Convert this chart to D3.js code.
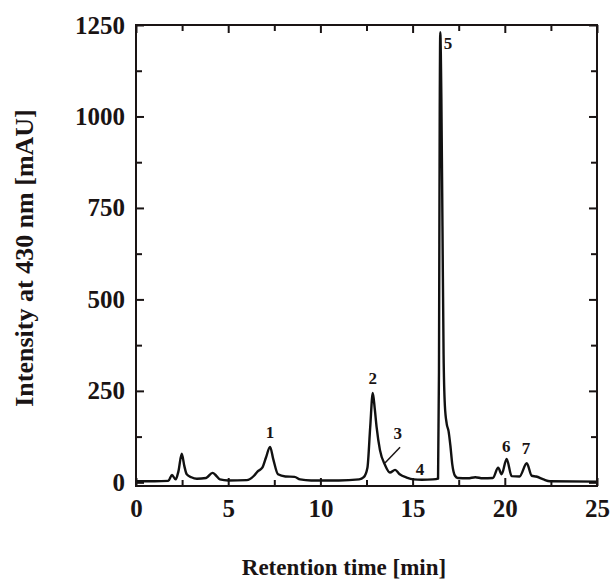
<!DOCTYPE html>
<html>
<head>
<meta charset="utf-8">
<script src="https://cdn.jsdelivr.net/npm/d3@7"></script>
<style>
    body { margin: 0; background: #fff; }
    text { font-family: "Liberation Serif", "Times New Roman", serif; font-weight: bold; fill: #1a1414; }
    .frame { fill: none; stroke: #1a1414; stroke-width: 2; }
    .axis path { display: none; }
    .axis line { stroke: #1a1414; stroke-width: 2; }
    .trace { fill: none; stroke: #111; stroke-width: 2.4; stroke-linejoin: round; }
</style>
</head>
<body>
<script>
//chromatogram
var time = [0, 1.0, 1.75, 1.95, 2.15, 2.3, 2.48, 2.62, 2.75, 3.0, 3.3, 3.8, 4.15, 4.35, 4.55, 5.0,
    6.0, 6.4, 6.6, 6.85, 7.05, 7.27, 7.45, 7.7, 8.1, 8.6, 8.9, 9.5, 11.0, 12.1, 12.35, 12.55,
    12.7, 12.84, 12.95, 13.05, 13.23, 13.5, 13.77, 14.05, 14.3, 14.68, 15.05, 15.5, 16.1, 16.38,
    16.43, 16.47, 16.5, 16.56, 16.62, 16.68, 16.75, 16.85, 16.95, 17.05, 17.15, 17.3, 17.45, 18.0,
    18.4, 18.8, 19.35, 19.64, 19.83, 20.1, 20.37, 20.8, 21.19, 21.46, 21.7, 22.1, 22.45, 25];
var signal = [3, 3, 4, 20, 8, 30, 78, 45, 22, 14, 10, 12, 26, 18, 8, 5,
    6, 18, 30, 40, 68, 97, 62, 22, 16, 15, 8, 5, 5, 8, 14, 40,
    150, 244, 200, 150, 88, 48, 27, 34, 22, 13, 8, 7, 8, 10,
    300, 1000, 1230, 1050, 700, 350, 210, 160, 140, 100, 50, 18, 12, 11,
    14, 11, 12, 40, 22, 64, 17, 16, 52, 18, 16, 8, 3, 2];

var xTicks = [0, 5, 10, 15, 20, 25],
    xMinor = [2.5, 7.5, 12.5, 17.5, 22.5],
    yTicks = [0, 250, 500, 750, 1000, 1250],
    yMinor = [125, 375, 625, 875, 1125];

//peak labels (baseline position in data units)
var peakNames = ["1", "2", "3", "4", "5", "6", "7"],
    peakTime = [7.27, 12.84, 14.2, 15.4, 16.92, 20.08, 21.15],
    peakLevel = [120, 268, 118, 20, 1184, 83, 77];

var width = 610,
    height = 583;

var svg = d3.select("body")
    .append("svg")
    .attr("width", width)
    .attr("height", height);

var x = d3.scaleLinear()
    .domain([0, 25])
    .range([136, 597]);

var y = d3.scaleLinear()
    .domain([-10, 1250])
    .range([486, 25]);

//ticks point inward on all four sides
function addAxis(axis, cls, transform){
    svg.append("g")
        .attr("class", "axis " + cls)
        .attr("transform", transform)
        .call(axis);
}

var atBottom = "translate(0," + y.range()[0] + ")",
    atTop = "translate(0," + y.range()[1] + ")",
    atLeft = "translate(" + x.range()[0] + ",0)",
    atRight = "translate(" + x.range()[1] + ",0)";

addAxis(d3.axisBottom(x).tickValues(xTicks).tickSize(-8).tickPadding(13).tickFormat(d3.format("d")), "xb", atBottom);
addAxis(d3.axisBottom(x).tickValues(xMinor).tickSize(-6).tickFormat(""), "xbm", atBottom);
addAxis(d3.axisTop(x).tickValues(xTicks).tickSize(-8).tickFormat(""), "xt", atTop);
addAxis(d3.axisTop(x).tickValues(xMinor).tickSize(-6).tickFormat(""), "xtm", atTop);
addAxis(d3.axisLeft(y).tickValues(yTicks).tickSize(-8).tickPadding(11).tickFormat(d3.format("d")), "yl", atLeft);
addAxis(d3.axisLeft(y).tickValues(yMinor).tickSize(-6).tickFormat(""), "ylm", atLeft);
addAxis(d3.axisRight(y).tickValues(yTicks).tickSize(-8).tickFormat(""), "yr", atRight);
addAxis(d3.axisRight(y).tickValues(yMinor).tickSize(-6).tickFormat(""), "yrm", atRight);

svg.selectAll(".axis text")
    .style("font-size", "25px");

//the trace
var line = d3.line()
    .x(function(d){ return x(d[0]); })
    .y(function(d){ return y(d[1]); })
    .curve(d3.curveMonotoneX);

svg.append("path")
    .datum(d3.zip(time, signal))
    .attr("class", "trace")
    .attr("d", line);

//frame
svg.append("rect")
    .attr("class", "frame")
    .attr("x", x.range()[0])
    .attr("y", y.range()[1])
    .attr("width", x.range()[1] - x.range()[0])
    .attr("height", y.range()[0] - y.range()[1]);

//peak numbers
svg.selectAll(".peak")
    .data(peakNames)
    .enter()
    .append("text")
    .attr("class", "peak")
    .attr("x", function(d, i){ return x(peakTime[i]); })
    .attr("y", function(d, i){ return y(peakLevel[i]); })
    .attr("text-anchor", "middle")
    .style("font-size", "17px")
    .text(function(d){ return d; });

//leader for peak 3
svg.append("line")
    .attr("x1", x(14.32)).attr("y1", y(96))
    .attr("x2", x(13.5)).attr("y2", y(53))
    .attr("stroke", "#1a1414")
    .attr("stroke-width", 1.5);

//axis titles
svg.append("text")
    .attr("x", 344)
    .attr("y", 575)
    .attr("text-anchor", "middle")
    .style("font-size", "23px")
    .text("Retention time [min]");

svg.append("text")
    .attr("transform", "translate(33,258) rotate(-90)")
    .attr("text-anchor", "middle")
    .style("font-size", "26px")
    .text("Intensity at 430 nm [mAU]");
</script>
</body>
</html>
